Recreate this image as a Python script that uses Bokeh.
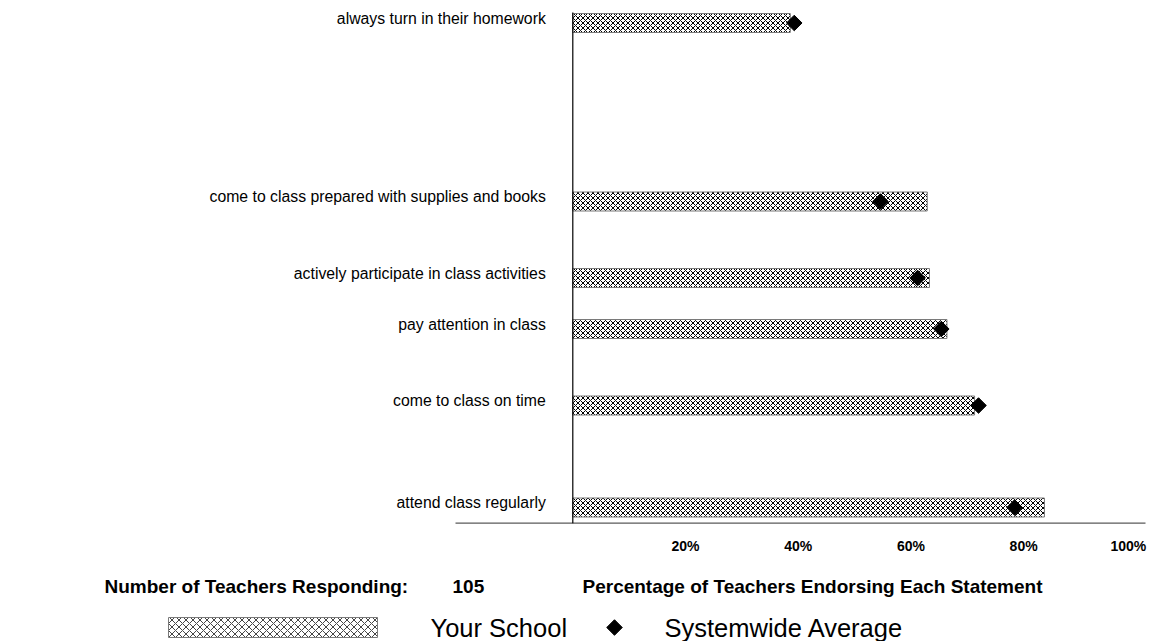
import math
from bokeh.plotting import figure
from bokeh.models import ColumnDataSource, Range1d
from bokeh.core.properties import value
from bokeh.embed import file_html
from bokeh.resources import INLINE

# ---------------- data ----------------
categories = [
    "always turn in their homework",
    "come to class prepared with supplies and books",
    "actively participate in class activities",
    "pay attention in class",
    "come to class on time",
    "attend class regularly",
]
row_slot = [19, 12, 9, 7, 4, 0]          # row slot of each statement (0 = bottom)
your_school = [38.6, 62.9, 63.3, 66.4, 71.3, 83.7]
systemwide = [39.3, 54.6, 61.2, 65.4, 72.0, 78.4]
ticks = [20, 40, 60, 80, 100]
tick_labels = ["20%", "40%", "60%", "80%", "100%"]
n_teachers = 105

# ---------------- layout helpers ----------------
W, H = 1153, 641
X_PX = 5.635          # pixels per percentage point
Y_PX = 25.5           # pixels per row slot
X0_PAGE = 572.3       # page x of 0 %
Y0_PAGE = 507.0       # page y of slot 0


def px_x(page_x):
    return (page_x - X0_PAGE) / X_PX


def px_y(page_y):
    return (Y0_PAGE - page_y) / Y_PX


FONT = "Liberation Sans"

p = figure(width=W, height=H, output_backend="svg", toolbar_location=None,
           x_axis_location=None, y_axis_location=None,
           x_range=Range1d(px_x(0), px_x(W)),
           y_range=Range1d(px_y(H), px_y(0)),
           min_border=0, min_border_left=0, min_border_right=0,
           min_border_top=0, min_border_bottom=0)
p.outline_line_color = None
p.grid.visible = False
p.background_fill_color = "white"
p.border_fill_color = "white"

src = ColumnDataSource(dict(cat=categories, y=row_slot, school=your_school,
                            system=systemwide))

# bars
p.hbar(y="y", left=0, right="school", height=19 / Y_PX, source=src,
       fill_color="white", line_color="#7a7a7a", line_width=1,
       hatch_pattern="diagonal_cross", hatch_color="black",
       hatch_scale=5, hatch_weight=1)

# axis lines
axis_y = px_y(522.7)
p.segment(x0=[px_x(455)], y0=[axis_y], x1=[px_x(1145)], y1=[axis_y],
          line_color="#5a5a5a", line_width=1.3)
p.segment(x0=[0], y0=[axis_y], x1=[0], y1=[px_y(12)],
          line_color="black", line_width=1.2)

# diamonds (rotated squares)
p.scatter(x="system", y="y", source=src, marker="square", size=11,
          angle=math.pi / 4, fill_color="black", line_color="black",
          line_width=1, line_join="miter")

# category labels
p.text(x=0, y="y", text="cat", source=src, x_offset=-27, y_offset=-5,
       text_align="right", text_baseline="middle",
       text_font=value(FONT), text_font_size="15.8px", text_color="black")

# tick labels
tsrc = ColumnDataSource(dict(x=ticks, t=tick_labels,
                             al=["center"] * (len(ticks) - 1) + ["right"],
                             xo=[0] * (len(ticks) - 1) + [10]))
p.text(x="x", y=px_y(545), text="t", source=tsrc, text_align="al",
       x_offset="xo", text_baseline="middle",
       text_font=value(FONT), text_font_size="14px", text_font_style="bold",
       text_color="black")

# footer
fy = px_y(586)
p.text(x=[px_x(104)], y=[fy], text=["Number of Teachers Responding:"],
       text_align="left", text_baseline="middle", text_font=value(FONT),
       text_font_size="19px", text_font_style="bold", text_color="black")
p.text(x=[px_x(452)], y=[fy], text=[str(n_teachers)],
       text_align="left", text_baseline="middle", text_font=value(FONT),
       text_font_size="19px", text_font_style="bold", text_color="black")
p.text(x=[px_x(582)], y=[fy], text=["Percentage of Teachers Endorsing Each Statement"],
       text_align="left", text_baseline="middle", text_font=value(FONT),
       text_font_size="19px", text_font_style="bold", text_color="black")

# legend
ly = 627.0
p.quad(left=[px_x(168)], right=[px_x(377)], bottom=[px_y(ly + 10)], top=[px_y(ly - 10)],
       fill_color="white", line_color="#7a7a7a", line_width=1,
       hatch_pattern="diagonal_cross", hatch_color="#444444",
       hatch_scale=7, hatch_weight=1)
p.text(x=[px_x(430)], y=[px_y(ly)], text=["Your School"],
       text_align="left", text_baseline="middle", text_font=value(FONT),
       text_font_size="25.5px", text_color="black")
p.scatter(x=[px_x(614)], y=[px_y(ly)], marker="square", size=11,
          angle=math.pi / 4, fill_color="black", line_color="black",
          line_width=1, line_join="miter")
p.text(x=[px_x(664)], y=[px_y(ly)], text=["Systemwide Average"],
       text_align="left", text_baseline="middle", text_font=value(FONT),
       text_font_size="25.5px", text_color="black")

open("out.html", "w").write(file_html(p, INLINE))
